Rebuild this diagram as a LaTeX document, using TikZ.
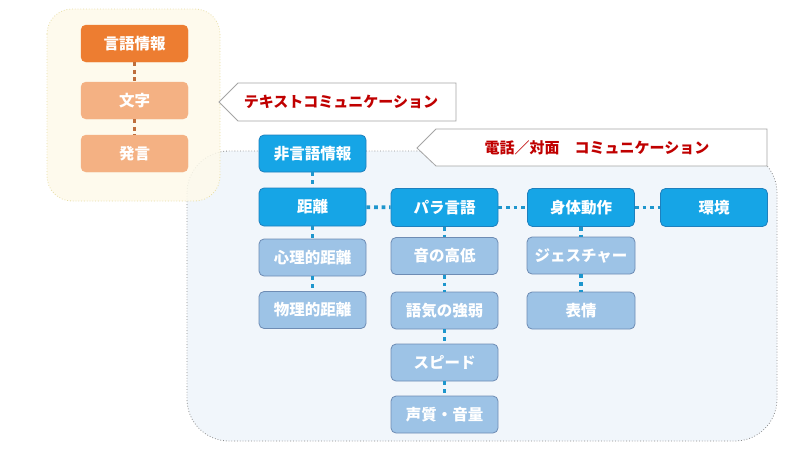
\documentclass[tikz,border=0pt]{standalone}
\usepackage{fontspec}
\newfontfamily\jp{Noto Sans CJK JP}
\definecolor{orgA}{RGB}{237,125,49}
\definecolor{orgB}{RGB}{244,177,131}
\definecolor{orgC}{RGB}{190,110,60}
\definecolor{bluA}{RGB}{22,165,230}
\definecolor{bluAb}{RGB}{30,128,190}
\definecolor{bluB}{RGB}{157,195,230}
\definecolor{bluBb}{RGB}{110,140,180}
\definecolor{bluC}{RGB}{30,150,205}
\definecolor{contB}{RGB}{241,246,251}
\definecolor{contBb}{RGB}{140,140,140}
\definecolor{contY}{RGB}{254,250,235}
\definecolor{contYb}{RGB}{232,222,165}
\definecolor{calB}{RGB}{165,165,165}
\definecolor{redT}{RGB}{192,0,0}
\tikzset{
  box/.style={rectangle, rounded corners=5pt, minimum width=107pt, minimum height=37pt,
    inner sep=0pt, font=\jp\bfseries\fontsize{15.5}{17}\selectfont, text=white},
  orgmain/.style={box, fill=orgA, draw=orgA},
  orgsub/.style={box, fill=orgB, draw=orgB},
  blumain/.style={box, fill=bluA, draw=bluAb, line width=0.8pt},
  blusub/.style={box, fill=bluB, draw=bluBb, line width=0.8pt},
  conn/.style={draw=bluC, line width=3.8pt, dash pattern=on 3.8pt off 3.8pt},
  oconn/.style={draw=orgC, line width=3.8pt, dash pattern=on 3.8pt off 3.8pt},
  callout/.style={fill=white, draw=calB, line width=0.8pt},
  caltext/.style={font=\jp\bfseries\fontsize{15}{17}\selectfont, text=redT, inner sep=0pt}
}
\begin{document}
\begin{tikzpicture}[x=1pt,y=-1pt]
\useasboundingbox (0,0) rectangle (800,450);
\fill[white] (0,0) rectangle (800,450);
% blue container
\draw[fill=contB, draw=contBb, line width=0.8pt, dotted, rounded corners=42pt] (187,151) rectangle (777,441);
% yellow container
\draw[fill=contY, fill opacity=0.85, draw=contYb, line width=0.8pt, dotted, rounded corners=25pt] (47,9) rectangle (220,201);
% callouts
\draw[callout] (219,102) -- (238,83) -- (456,83) -- (456,121) -- (238,121) -- cycle;
\node[caltext] (c1) at (341,102) {テキストコミュニケーション};
\draw[callout] (417,148) -- (436,129) -- (767,129) -- (767,166) -- (436,166) -- cycle;
\node[caltext] (c2) at (597,147.5) {電話／対面　コミュニケーション};
% verbal
\node[orgmain] (gengo) at (134.5,43.5) {言語情報};
\node[orgsub] (moji) at (134.5,100.5) {文字};
\node[orgsub] (hatsu) at (134.5,153.5) {発言};
\draw[oconn] (gengo) -- (moji);
\draw[oconn] (moji) -- (hatsu);
% non-verbal
\node[blumain] (hig) at (312.5,153.5) {非言語情報};
\node[blumain, minimum height=38pt] (kyori) at (312.5,207) {距離};
\node[blumain, minimum height=38pt] (para) at (444.5,207.5) {パラ言語};
\node[blumain, minimum height=38pt] (shin) at (581,207.5) {身体動作};
\node[blumain, minimum height=38pt] (kankyo) at (714,207.5) {環境};
\node[blusub] (shinri) at (312.5,257.5) {心理的距離};
\node[blusub] (butsuri) at (312.5,310) {物理的距離};
\node[blusub] (oto) at (444.5,256) {音の高低};
\node[blusub] (goki) at (444.5,310.5) {語気の強弱};
\node[blusub] (speed) at (444.5,362.5) {スピード};
\node[blusub] (seishitsu) at (444.5,414.5) {声質・音量};
\node[blusub, minimum width=108pt] (gesture) at (581,255.5) {ジェスチャー};
\node[blusub, minimum width=108pt] (hyojo) at (581,310.5) {表情};
\draw[conn] (hig) -- (kyori);
\draw[conn] (kyori) -- (para);
\draw[conn] (para) -- (shin);
\draw[conn] (shin) -- (kankyo);
\draw[conn] (kyori) -- (shinri);
\draw[conn] (shinri) -- (butsuri);
\draw[conn] (para) -- (oto);
\draw[conn] (oto) -- (goki);
\draw[conn] (goki) -- (speed);
\draw[conn] (speed) -- (seishitsu);
\draw[conn] (shin) -- (gesture);
\draw[conn] (gesture) -- (hyojo);
\end{tikzpicture}
\end{document}
